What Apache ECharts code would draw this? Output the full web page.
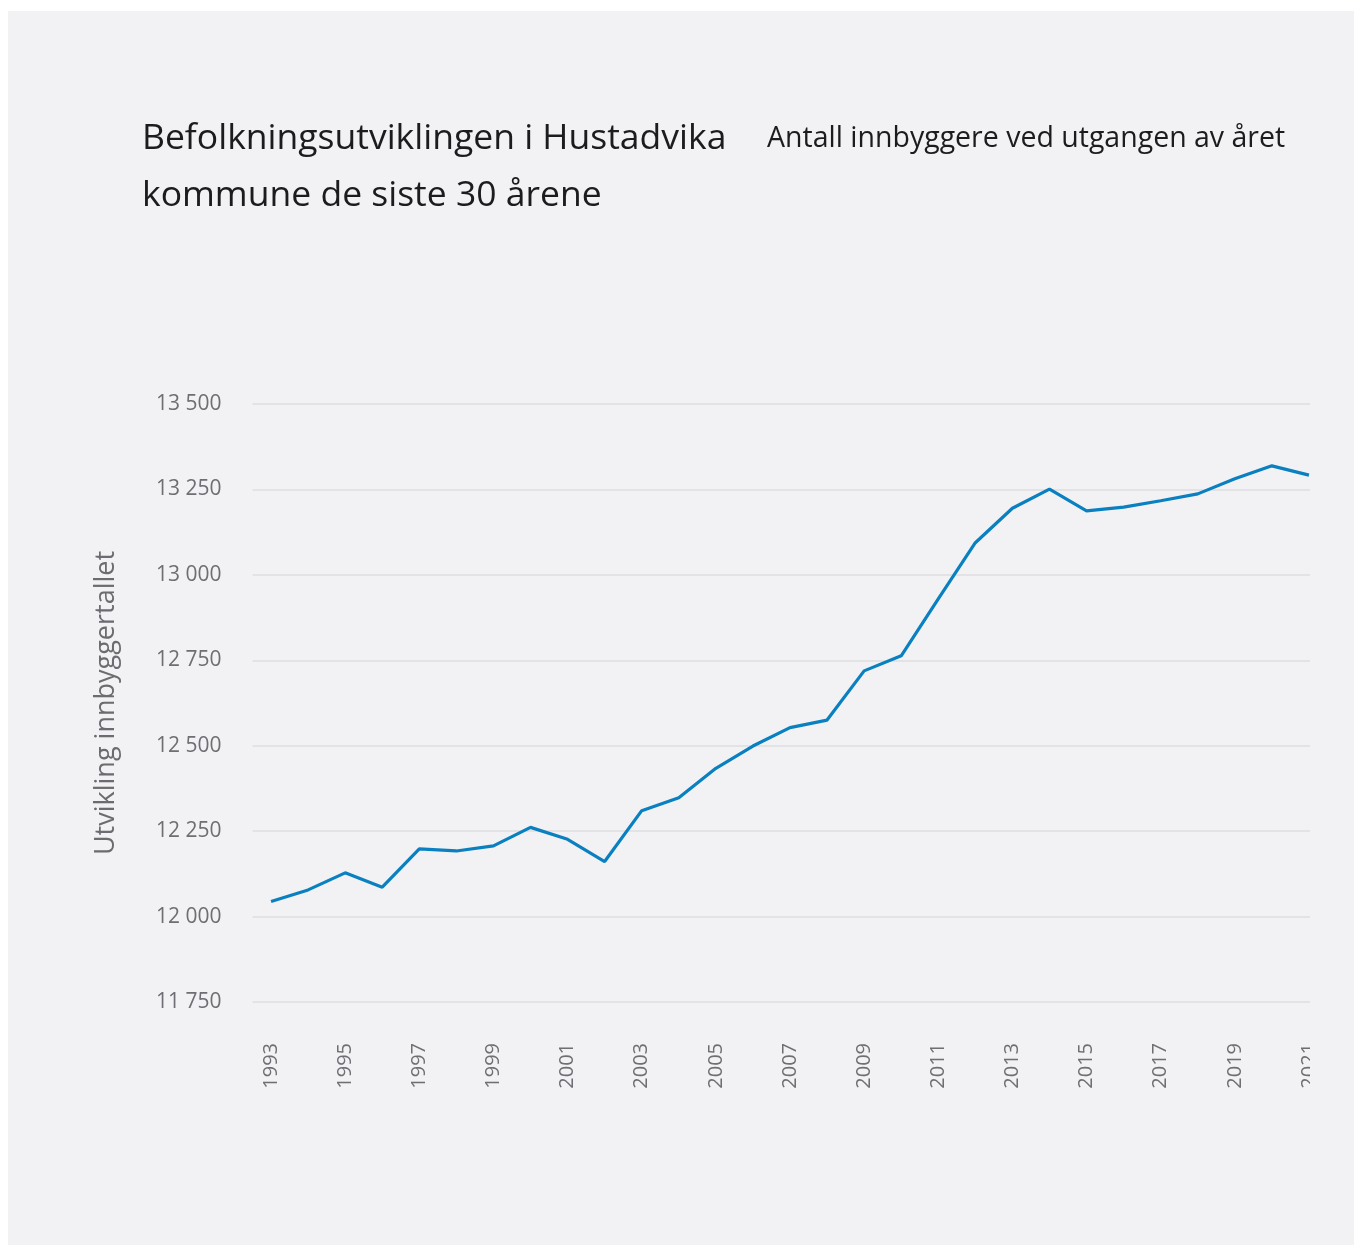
<!DOCTYPE html>
<html>
<head>
<meta charset="utf-8">
<script src="https://cdn.jsdelivr.net/npm/echarts@6/dist/echarts.min.js"></script>
<style>
  html, body { margin: 0; padding: 0; background: #ffffff; width: 1354px; height: 1245px; overflow: hidden; }
  #panel { position: absolute; left: 8px; top: 11px; width: 1346px; height: 1234px; background: #f2f2f4; }
  #chart { position: absolute; left: 8px; top: 11px; width: 1302px; height: 1234px; }
</style>
</head>
<body>
<div id="panel"></div>
<div id="chart"></div>
<script>
const titleText = 'Befolkningsutviklingen i Hustadvika\nkommune de siste 30 årene';
const subtitleText = 'Antall innbyggere ved utgangen av året';
const yAxisName = 'Utvikling innbyggertallet';
const years = ['1993','1994','1995','1996','1997','1998','1999','2000','2001','2002','2003','2004','2005','2006','2007','2008','2009','2010','2011','2012','2013','2014','2015','2016','2017','2018','2019','2020','2021'];
const population = [12044, 12078, 12128, 12086, 12198, 12192, 12207, 12261, 12226, 12161, 12310, 12348, 12434, 12499, 12553, 12575, 12719, 12763, 12930, 13094, 13195, 13251, 13187, 13198, 13217, 13237, 13281, 13319, 13292];
const yMin = 11750, yMax = 13500, yStep = 250;

function fmt(v) { return String(v).replace(/\B(?=(\d{3})+(?!\d))/g, ' '); }

const FONT = '"Open Sans"';
const chart = echarts.init(document.getElementById('chart'), null, { renderer: 'canvas' });
chart.setOption({
  backgroundColor: 'transparent',
  animation: false,
  title: [
    { text: titleText, left: 129, top: 94,
      textStyle: { fontFamily: FONT, fontSize: 35.5, fontWeight: 400, color: '#1c1c1e', lineHeight: 57 } },
    { text: subtitleText, left: 754, top: 108,
      textStyle: { fontFamily: FONT, fontSize: 28.5, fontWeight: 400, color: '#1c1c1e' } }
  ],
  grid: { left: 244.5, top: 393, width: 1075, height: 598, containLabel: false, outerBoundsMode: 'none' },
  xAxis: {
    type: 'category', data: years, boundaryGap: true,
    axisLine: { show: false }, axisTick: { show: false },
    axisLabel: { interval: 1, rotate: 90, margin: 41, fontFamily: FONT, fontSize: 20, fontWeight: 400, color: '#6e6e73' },
    splitLine: { show: false }
  },
  yAxis: {
    type: 'value', min: yMin, max: yMax, interval: yStep,
    name: yAxisName, nameLocation: 'middle', nameGap: 133, nameRotate: 90,
    nameTextStyle: { fontFamily: FONT, fontSize: 27, fontWeight: 400, color: '#6b6b70' },
    axisLine: { show: false }, axisTick: { show: false },
    axisLabel: { margin: 31, formatter: fmt, fontFamily: FONT, fontSize: 21, fontWeight: 400, color: '#6e6e73' },
    splitLine: { lineStyle: { color: '#e3e3e6', width: 2 } }
  },
  series: [{
    type: 'line', data: population, symbol: 'none', smooth: false,
    lineStyle: { color: '#0a80c0', width: 3.2 }
  }]
});
</script>
</body>
</html>
